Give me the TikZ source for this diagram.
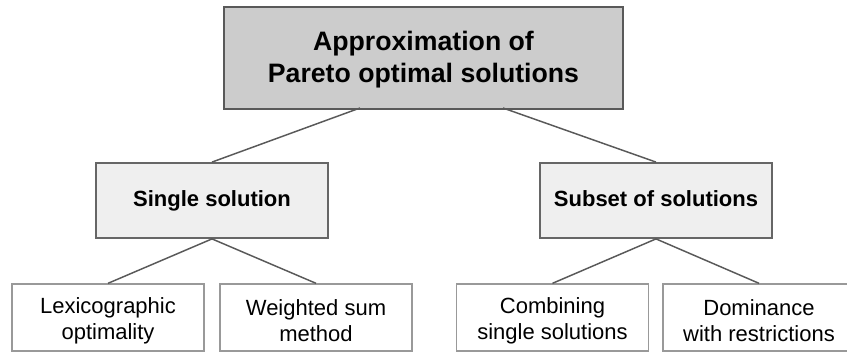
\documentclass[tikz,border=0pt]{standalone}
\usepackage{fontspec}
\setmainfont{Liberation Sans}
\definecolor{rootfill}{HTML}{CCCCCC}
\definecolor{rootline}{HTML}{595959}
\definecolor{midfill}{HTML}{EFEFEF}
\definecolor{midline}{HTML}{666666}
\definecolor{leafline}{HTML}{999999}
\definecolor{linkcol}{HTML}{595959}
\begin{document}
\begin{tikzpicture}[x=0.75pt,y=-0.75pt,
  rootbox/.style={draw=rootline,fill=rootfill,line width=1.6pt,
    minimum width=299.25pt,minimum height=76.5pt,inner sep=0pt},
  roottext/.style={align=center,inner sep=0pt,yshift=-1.5pt,
    font=\fontsize{20}{24}\selectfont\bfseries},
  midbox/.style={draw=midline,fill=midfill,line width=1.1pt,
    minimum width=174pt,minimum height=56.5pt,inner sep=0pt,
    text height=12pt,text depth=3.5pt,
    font=\fontsize{16.5}{19.5}\selectfont\bfseries},
  leafbox/.style={draw=leafline,fill=white,line width=1pt,
    minimum width=144pt,minimum height=50.25pt,inner sep=0pt},
  leaftext/.style={align=center,inner sep=0pt,yshift=-2.5pt,
    font=\fontsize{16.5}{19.5}\selectfont},
  link/.style={draw=linkcol,line width=1.1pt}]
  \useasboundingbox[fill=white] (0,0) rectangle (847,352);

  % points on the root's lower edge where its two links leave
  \coordinate (rootL) at (360,108);
  \coordinate (rootR) at (503,108);

  \node[rootbox,label={[roottext]center:Approximation of\\Pareto optimal solutions}]
    (root) at (423.5,58) {};

  \node[midbox] (single) at (212,200.5) {Single solution};
  \node[midbox] (subset) at (656,200.5) {Subset of solutions};

  \node[leafbox,label={[leaftext]center:Lexicographic\\optimality}] (lex) at (108,317.5) {};
  \node[leafbox,label={[leaftext]center:Weighted sum\\method}] (wsum) at (316,317.5) {};
  \node[leafbox,label={[leaftext]center:Combining\\single solutions}] (comb) at (552.5,317.5) {};
  \node[leafbox,label={[leaftext]center:Dominance\\with restrictions}] (dom) at (759,317.5) {};

  \draw[link] (rootL) -- (single.north);
  \draw[link] (rootR) -- (subset.north);
  \draw[link] (single.south) -- (lex.north);
  \draw[link] (single.south) -- (wsum.north);
  \draw[link] (subset.south) -- (comb.north);
  \draw[link] (subset.south) -- (dom.north);
\end{tikzpicture}
\end{document}
